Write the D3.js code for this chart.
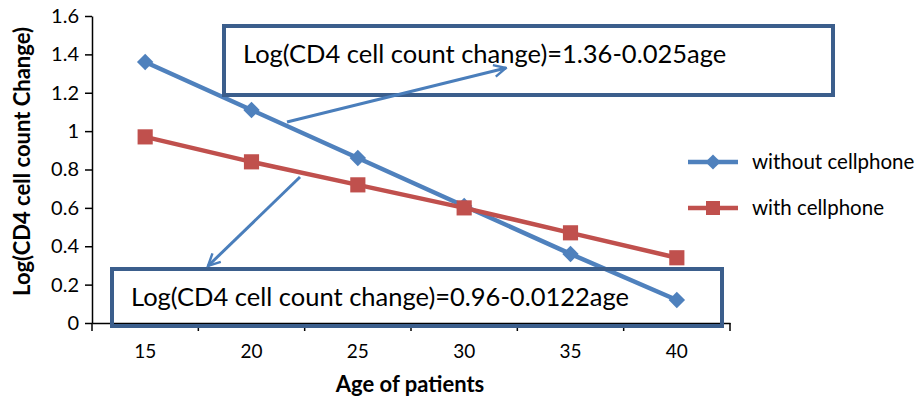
<!DOCTYPE html>
<html>
<head>
<meta charset="utf-8">
<script src="https://cdn.jsdelivr.net/npm/d3@7/dist/d3.min.js"></script>
<style>
  body { margin: 0; background: #fff; }
  svg text { font-family: Lato, "Open Sans", sans-serif; fill: #000; }
</style>
</head>
<body>
<svg id="chart" width="917" height="401"></svg>
<script>
const ages = ['15', '20', '25', '30', '35', '40'];
const withoutPhone = [1.36, 1.11, 0.86, 0.61, 0.36, 0.12];
const withPhone = [0.97, 0.84, 0.72, 0.60, 0.47, 0.34];
const yTicks = [0, 0.2, 0.4, 0.6, 0.8, 1, 1.2, 1.4, 1.6];
const seriesNames = ['without cellphone', 'with cellphone'];
const eqTop = 'Log(CD4 cell count change)=1.36-0.025age';
const eqBottom = 'Log(CD4 cell count change)=0.96-0.0122age';

const svg = d3.select('#chart');
const margin = { top: 16, right: 187, bottom: 78, left: 92 };
const width = 917 - margin.left - margin.right;
const height = 401 - margin.top - margin.bottom;

const x = d3.scaleBand().domain(ages).range([0, width]).padding(0);
const y = d3.scaleLinear().domain([0, 1.6]).range([height, 0]);
const cx = d => x(d) + x.bandwidth() / 2;

const g = svg.append('g').attr('transform', `translate(${margin.left},${margin.top})`);

// y axis
const yAxis = g.append('g')
    .call(d3.axisLeft(y).tickValues(yTicks).tickFormat(d3.format('~g')).tickSize(7).tickSizeOuter(0).tickPadding(6));
yAxis.select('.domain').attr('stroke', '#000').attr('stroke-width', 1.5);
yAxis.selectAll('.tick line').attr('stroke', '#000').attr('stroke-width', 1.5);
yAxis.selectAll('text').style('font-size', '20px').attr('fill', '#000');

// x axis: labels at band centres, ticks at band edges
const xAxis = g.append('g')
    .attr('transform', `translate(0,${height})`)
    .call(d3.axisBottom(x).tickSize(0).tickSizeOuter(0).tickPadding(22));
xAxis.select('.domain').attr('stroke', '#000').attr('stroke-width', 1.5);
xAxis.selectAll('text').style('font-size', '19px').attr('fill', '#000');
xAxis.selectAll('.edge')
    .data(ages.map(a => x(a)).concat([width]))
    .enter().append('line')
    .attr('class', 'edge')
    .attr('x1', d => d).attr('x2', d => d)
    .attr('y1', 0).attr('y2', 8)
    .attr('stroke', '#000').attr('stroke-width', 1.5);

// axis titles
svg.append('text')
    .attr('x', 410)
    .attr('y', 392)
    .attr('text-anchor', 'middle')
    .style('font-size', '22px').style('font-weight', 'bold')
    .text('Age of patients');

svg.append('text')
    .attr('transform', `translate(30,${margin.top + height / 2 - 8}) rotate(-90)`)
    .attr('text-anchor', 'middle')
    .style('font-size', '22px').style('font-weight', 'bold')
    .text('Log(CD4 cell count Change)');

// equation boxes
const boxColor = '#3B5E8C';
const arrowColor = '#4A7EBB';

svg.append('rect')
    .attr('x', 224).attr('y', 26).attr('width', 609).attr('height', 69)
    .attr('fill', 'none').attr('stroke', boxColor).attr('stroke-width', 4);
svg.append('text')
    .attr('x', 243).attr('y', 63)
    .style('font-size', '25.5px')
    .text(eqTop);

svg.append('rect')
    .attr('x', 112).attr('y', 269).attr('width', 610).attr('height', 57)
    .attr('fill', 'none').attr('stroke', boxColor).attr('stroke-width', 4);
svg.append('text')
    .attr('x', 131).attr('y', 306)
    .style('font-size', '25.5px')
    .text(eqBottom);

// series
const series = [
    { name: seriesNames[0], values: withoutPhone, color: '#4F81BD', shape: 'diamond' },
    { name: seriesNames[1], values: withPhone, color: '#C0504D', shape: 'square' }
];
const line = d3.line().x((d, i) => cx(ages[i])).y(d => y(d));
const marker = (s, k) => d3.symbol().type(d3.symbolSquare).size((s.shape === 'diamond' ? 135 : 230) * k)();
const rot = s => s.shape === 'diamond' ? ' rotate(45)' : '';

series.forEach(s => {
    g.append('path')
        .datum(s.values)
        .attr('fill', 'none')
        .attr('stroke', s.color)
        .attr('stroke-width', 4.5)
        .attr('d', line);
    g.selectAll(null)
        .data(s.values)
        .enter().append('path')
        .attr('transform', (d, i) => `translate(${cx(ages[i])},${y(d)})${rot(s)}`)
        .attr('d', marker(s, 1))
        .attr('fill', s.color);
});

// arrows
const defs = svg.append('defs');
defs.append('marker')
    .attr('id', 'arrow')
    .attr('viewBox', '0 0 10 10')
    .attr('refX', 9).attr('refY', 5)
    .attr('markerWidth', 5).attr('markerHeight', 5)
    .attr('orient', 'auto')
    .append('path')
    .attr('d', 'M1,1 L9,5 L1,9')
    .attr('fill', 'none').attr('stroke', arrowColor).attr('stroke-width', 1.6);

svg.append('line')
    .attr('x1', 287).attr('y1', 122).attr('x2', 506).attr('y2', 68)
    .attr('stroke', arrowColor).attr('stroke-width', 3)
    .attr('marker-end', 'url(#arrow)');
svg.append('line')
    .attr('x1', 300).attr('y1', 177).attr('x2', 208).attr('y2', 266)
    .attr('stroke', arrowColor).attr('stroke-width', 3)
    .attr('marker-end', 'url(#arrow)');

// legend
const legend = svg.append('g').attr('transform', 'translate(688,162)');
series.forEach((s, i) => {
    const row = legend.append('g').attr('transform', `translate(0,${i * 46})`);
    row.append('line').attr('x1', 0).attr('x2', 50).attr('y1', 0).attr('y2', 0)
        .attr('stroke', s.color).attr('stroke-width', 4.5);
    row.append('path')
        .attr('transform', `translate(25,0)${rot(s)}`)
        .attr('d', marker(s, 0.85))
        .attr('fill', s.color);
    row.append('text')
        .attr('x', 64).attr('y', 0).attr('dy', '0.35em')
        .style('font-size', '20.5px')
        .text(s.name);
});
</script>
</body>
</html>
